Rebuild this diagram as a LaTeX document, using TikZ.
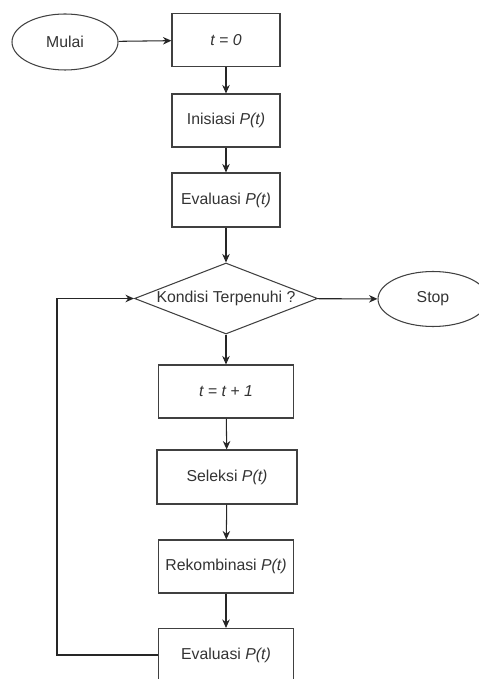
\documentclass[tikz,border=0pt]{standalone}
\usepackage{fontspec}
\setmainfont{Liberation Sans}
\usepackage{tikz}
\usetikzlibrary{shapes.geometric, positioning, calc, arrows.meta}

\begin{document}
\begin{tikzpicture}[
    line width=0.6pt,
    font=\fontsize{9}{11}\selectfont,
    every node/.style={text=black!80},
    proses/.style={draw=black!75, rectangle, minimum width=2.7cm, minimum height=1.06cm, inner sep=0pt},
    terminal/.style={draw=black!75, ellipse, minimum width=2.12cm, minimum height=1.12cm, inner sep=0pt},
    keputusan/.style={draw=black!75, diamond, aspect=2.6, inner sep=0pt, minimum width=3.66cm, minimum height=1.42cm},
    panah/.style={draw=black!85, -{Stealth[length=1.7mm, width=1.5mm]}}
  ]

  \useasboundingbox (0,0) rectangle (9.56,-13.58);

  % ==========================================
  % Bagian atas: inisialisasi
  % ==========================================
  \node[terminal] (mulai) at (1.30,-0.84) {Mulai};
  \node[proses, minimum width=2.16cm] (t0) at (4.52,-0.80) {\textit{t = 0}};
  \node[proses, minimum width=2.16cm] (inisiasi) at (4.52,-2.41) {Inisiasi \textit{P(t)}};
  \node[proses, minimum width=2.16cm, minimum height=1.08cm] (evaluasi) at (4.52,-4.00) {Evaluasi \textit{P(t)}};

  % ==========================================
  % Kondisi berhenti
  % ==========================================
  \node[keputusan] (kondisi) at (4.52,-5.97) {Kondisi Terpenuhi ?};
  \node[terminal, minimum width=2.2cm, minimum height=1.10cm] (stop) at (8.66,-5.98) {Stop};

  % ==========================================
  % Bagian bawah: loop generasi
  % ==========================================
  \node[proses] (tambah) at (4.52,-7.83) {\textit{t = t + 1}};
  \node[proses, minimum width=2.8cm, minimum height=1.08cm] (seleksi) at (4.54,-9.54) {Seleksi \textit{P(t)}};
  \node[proses] (rekombinasi) at (4.52,-11.33) {Rekombinasi \textit{P(t)}};
  \node[proses] (evaluasiB) at (4.52,-13.10) {Evaluasi \textit{P(t)}};

  \coordinate (balikBawah) at (1.14,-13.10);
  \coordinate (balikAtas) at (1.14,-5.97);

  % Panah (Arrows)
  \draw[panah] (mulai) -- (t0);
  \draw[panah] (t0) -- (inisiasi);
  \draw[panah] (inisiasi) -- (evaluasi);
  \draw[panah] (evaluasi) -- (kondisi);
  \draw[panah] (kondisi) -- (stop);
  \draw[panah] (kondisi) -- (tambah);
  \draw[panah] (tambah) -- (seleksi);
  \draw[panah] (seleksi) -- (rekombinasi);
  \draw[panah] (rekombinasi) -- (evaluasiB);
  \draw[panah] (evaluasiB.west) -- (balikBawah) -- (balikAtas) -- (kondisi.west);

\end{tikzpicture}
\end{document}
